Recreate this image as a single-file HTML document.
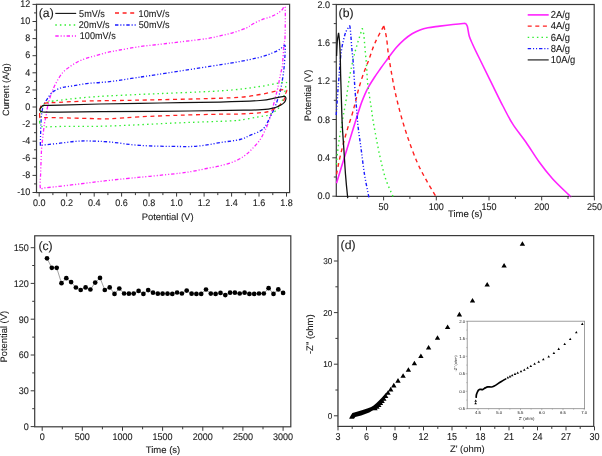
<!DOCTYPE html>
<html><head><meta charset="utf-8"><style>
html,body{margin:0;padding:0;background:#fff;}
body{width:602px;height:456px;overflow:hidden;}
svg{display:block;filter:blur(0.3px);}
text{font-family:"Liberation Sans", sans-serif;fill:#1a1a1a;text-rendering:geometricPrecision;stroke:#1a1a1a;stroke-width:0.1px;}
</style></head><body>
<svg width="602" height="456" viewBox="0 0 602 456">
<rect width="602" height="456" fill="#fff"/>
<rect x="36.5" y="4.3" width="253.1" height="188.3" fill="none" stroke="#3a3a3a" stroke-width="1.2"/>
<path d="M39.2 192.6v4M66.7 192.6v4M94.2 192.6v4M121.6 192.6v4M149.1 192.6v4M176.6 192.6v4M204.1 192.6v4M231.6 192.6v4M259 192.6v4M286.5 192.6v4M52.9 192.6v2.5M80.4 192.6v2.5M107.9 192.6v2.5M135.4 192.6v2.5M162.9 192.6v2.5M190.3 192.6v2.5M217.8 192.6v2.5M245.3 192.6v2.5M272.8 192.6v2.5" stroke="#3a3a3a" stroke-width="1" fill="none"/>
<path d="M36.5 192.5h-4M36.5 175.4h-4M36.5 158.3h-4M36.5 141.2h-4M36.5 124.1h-4M36.5 107h-4M36.5 89.9h-4M36.5 72.8h-4M36.5 55.7h-4M36.5 38.6h-4M36.5 21.5h-4M36.5 4.4h-4M36.5 183.9h-2.5M36.5 166.9h-2.5M36.5 149.8h-2.5M36.5 132.7h-2.5M36.5 115.5h-2.5M36.5 98.5h-2.5M36.5 81.3h-2.5M36.5 64.2h-2.5M36.5 47.1h-2.5M36.5 30h-2.5M36.5 12.9h-2.5" stroke="#3a3a3a" stroke-width="1" fill="none"/>
<text transform="translate(39.2 206.2) scale(1.0 1.08)" font-size="9" text-anchor="middle" >0.0</text>
<text transform="translate(66.7 206.2) scale(1.0 1.08)" font-size="9" text-anchor="middle" >0.2</text>
<text transform="translate(94.2 206.2) scale(1.0 1.08)" font-size="9" text-anchor="middle" >0.4</text>
<text transform="translate(121.6 206.2) scale(1.0 1.08)" font-size="9" text-anchor="middle" >0.6</text>
<text transform="translate(149.1 206.2) scale(1.0 1.08)" font-size="9" text-anchor="middle" >0.8</text>
<text transform="translate(176.6 206.2) scale(1.0 1.08)" font-size="9" text-anchor="middle" >1.0</text>
<text transform="translate(204.1 206.2) scale(1.0 1.08)" font-size="9" text-anchor="middle" >1.2</text>
<text transform="translate(231.6 206.2) scale(1.0 1.08)" font-size="9" text-anchor="middle" >1.4</text>
<text transform="translate(259 206.2) scale(1.0 1.08)" font-size="9" text-anchor="middle" >1.6</text>
<text transform="translate(286.5 206.2) scale(1.0 1.08)" font-size="9" text-anchor="middle" >1.8</text>
<text transform="translate(30.2 195.2) scale(1.0 1.08)" font-size="9" text-anchor="end" >-10</text>
<text transform="translate(30.2 178.1) scale(1.0 1.08)" font-size="9" text-anchor="end" >-8</text>
<text transform="translate(30.2 161) scale(1.0 1.08)" font-size="9" text-anchor="end" >-6</text>
<text transform="translate(30.2 143.9) scale(1.0 1.08)" font-size="9" text-anchor="end" >-4</text>
<text transform="translate(30.2 126.8) scale(1.0 1.08)" font-size="9" text-anchor="end" >-2</text>
<text transform="translate(30.2 109.7) scale(1.0 1.08)" font-size="9" text-anchor="end" >0</text>
<text transform="translate(30.2 92.6) scale(1.0 1.08)" font-size="9" text-anchor="end" >2</text>
<text transform="translate(30.2 75.5) scale(1.0 1.08)" font-size="9" text-anchor="end" >4</text>
<text transform="translate(30.2 58.4) scale(1.0 1.08)" font-size="9" text-anchor="end" >6</text>
<text transform="translate(30.2 41.3) scale(1.0 1.08)" font-size="9" text-anchor="end" >8</text>
<text transform="translate(30.2 24.2) scale(1.0 1.08)" font-size="9" text-anchor="end" >10</text>
<text transform="translate(30.2 7.1) scale(1.0 1.08)" font-size="9" text-anchor="end" >12</text>
<text transform="translate(167.6 220.3)" font-size="9.45" text-anchor="middle" >Potential (V)</text>
<text transform="translate(9.1 89.6) rotate(-90)" font-size="9.1" text-anchor="middle" >Current (A/g)</text>
<text transform="translate(38.8 16.7)" font-size="12.2" text-anchor="start" >(a)</text>
<path d="M40.4 188C39.7 185.4 40.5 178.3 40.7 172C40.9 165.7 41.2 155.5 41.5 150C41.8 144.5 42.1 143.3 42.6 139C43.1 134.7 43.8 128 44.4 124C45 120 45.7 117.9 46.2 115.1C46.7 112.3 46.9 109.9 47.5 107.2C48.1 104.5 48.8 101.8 49.6 99C50.4 96.2 51.3 93.5 52.5 90.6C53.7 87.7 55.1 84.5 56.9 81.4C58.6 78.3 60.7 74.8 63 72.2C65.3 69.7 68.2 67.9 70.7 66.1C73.2 64.3 75.8 62.8 78.3 61.5C80.8 60.2 83.3 59.3 86 58.4C88.7 57.5 91.2 57 94.6 56C98 55 102.3 53.6 106.5 52.6C110.7 51.6 114.3 51 119.8 50C125.3 49 133 47.6 139.7 46.6C146.4 45.6 153.3 45.1 160 44.3C166.7 43.5 172.2 42.8 180 41.9C187.8 41 199.9 39.6 206.6 38.6C213.2 37.6 215.5 36.9 219.9 35.9C224.3 34.9 228.8 33.9 233.2 32.6C237.6 31.3 243.3 29.4 246.4 28C249.5 26.6 250.1 25.6 252 24.5C253.9 23.4 255.9 22.3 258 21.3C260.1 20.3 262.6 19.3 264.6 18.6C266.6 17.9 268.1 17.8 269.9 17.1C271.7 16.5 273.6 15.5 275.2 14.7C276.8 13.9 278.1 13.1 279.2 12.3C280.3 11.5 281 10.9 281.9 10C282.8 9.1 284 6.3 284.6 6.6C285.2 6.9 285.2 6.8 285.3 12C285.4 17.2 285.2 32.8 285 38C284.8 43.2 284.3 40.1 284 43.4C283.7 46.7 283.3 54.1 283 57.9C282.7 61.7 282.8 63.2 282.4 66C282 68.8 281.2 71 280.4 74.7C279.6 78.4 278.7 84 277.8 87.9C276.9 91.9 276.1 94.7 275.1 98.4C274.2 102.1 273.2 106.1 272.1 109.9C271.1 113.7 270 117.9 268.8 121.4C267.6 124.9 266.2 128 264.7 131.1C263.2 134.2 261.8 137.2 259.7 140.2C257.6 143.2 254.5 146.5 251.8 149.2C249.2 151.9 246.9 154.2 243.8 156.3C240.7 158.4 237.2 160.3 233.2 161.9C229.2 163.5 224.3 164.7 219.9 165.8C215.5 166.9 211 167.6 206.6 168.5C202.2 169.4 197.7 170.4 193.3 171.2C188.9 172 187.2 172.3 180 173.2C172.8 174 159 175.4 150 176.3C141 177.2 135 177.7 126 178.6C117 179.5 106 180.7 96 181.9C86 183.1 74.5 184.6 66 185.6C57.5 186.6 49.3 187.4 45 187.8C40.7 188.2 41.1 190.6 40.4 188Z" fill="none" stroke="#ff22ff" stroke-width="1.3" stroke-dasharray="3.4 1.9 1.1 1.9 1.1 1.9" stroke-linejoin="round"/>
<path d="M40.4 145.3C40.2 143.6 40.5 138.9 40.6 135C40.7 131.1 40.8 125.7 41 122C41.2 118.3 41.4 115.7 41.8 113C42.2 110.3 42.6 107.8 43.2 106C43.8 104.2 44.4 103.4 45.2 102.1C46 100.8 46.9 99.5 47.8 98.2C48.7 96.9 49.4 95.4 50.5 94.2C51.6 93 52.4 92 54.4 90.9C56.4 89.8 59.1 88.3 62.3 87.5C65.5 86.7 69.2 86.5 73.3 85.8C77.3 85.1 82.2 84.1 86.6 83.6C91 83 95.5 82.9 99.9 82.5C104.3 82.1 108.8 81.8 113.2 81.2C117.6 80.7 122 79.9 126.4 79.2C130.8 78.5 135.8 77.8 139.7 77.2C143.6 76.6 134.9 77.9 150 75.6C165.1 73.3 211.7 66.3 230 63.2C248.3 60.1 252.8 59 260 57.2C267.2 55.4 269.9 53.9 273.2 52.6C276.5 51.3 277.8 50.5 279.7 49.3C281.6 48.1 283.4 45.8 284.3 45.4C285.2 45 285.1 45.4 285.2 47C285.3 48.6 285.2 51 285 55C284.8 59 284.4 65.3 283.7 70.8C283 76.3 281.9 83.5 281 87.9C280.1 92.3 279.5 93.7 278.4 97.1C277.3 100.5 276 104.7 274.5 108.2C273 111.7 271.2 114.9 269.6 118.1C268 121.2 266.4 124.9 264.7 127.1C263 129.3 262.2 129.9 259.7 131.3C257.2 132.7 253.2 134 249.9 135.4C246.6 136.8 245 138.3 240 139.5C235 140.7 226.7 141.5 220 142.6C213.3 143.7 206.7 145.2 200 145.9C193.3 146.6 190 146.6 180 146.5C170 146.4 151.7 146.2 140 145.4C128.3 144.7 118.3 142.7 110 142C101.7 141.3 95.7 141.1 90 141C84.3 140.9 81 140.9 76 141.3C71 141.7 65.2 142.6 60 143.2C54.8 143.8 48.1 144.5 45 144.8C41.9 145.2 42.3 145.2 41.5 145.3C40.7 145.4 40.5 147 40.4 145.3Z" fill="none" stroke="#1a1aff" stroke-width="1.3" stroke-dasharray="3.4 1.9 1.1 1.9 1.1 1.9" stroke-linejoin="round"/>
<path d="M39.7 122C39.6 120.1 39.9 116.5 40.3 114C40.6 111.5 41.3 108.6 41.8 107C42.3 105.4 42.7 105.2 43.5 104.5C44.3 103.8 44.8 103.4 46.5 102.8C48.2 102.2 46.5 101.9 53.5 101C60.5 100.1 74.8 98.3 88.6 97.2C102.3 96.1 114.1 95.6 136 94.6C157.9 93.5 199.3 92.2 220 90.9C240.7 89.6 249.2 88 260 86.5C270.8 85 280.8 82 285 82.2C289.2 82.5 285.5 85.9 285.4 88C285.3 90.1 284.7 93 284.2 95C283.7 97 282.9 98.6 282.3 100.3C281.7 102 281.3 103.7 280.5 105.2C279.7 106.7 279.3 107.7 277.4 109.3C275.5 110.9 272.6 113.5 269.1 114.8C265.6 116.1 261.2 116.4 256.4 117.3C251.5 118.2 244.4 119.5 240 120.1C235.6 120.7 240 120.5 230 120.9C220 121.4 200 122 180 122.8C160 123.6 128.3 125.4 110 126C91.7 126.6 80.8 126.2 70 126.3C59.2 126.4 49.8 126.9 45 126.8C40.2 126.7 41.9 126.3 41 125.5C40.1 124.7 39.8 123.9 39.7 122Z" fill="none" stroke="#33ee33" stroke-width="1.3" stroke-dasharray="1.5 3.1" stroke-linejoin="round"/>
<path d="M39.7 117C39.5 116.1 39.6 113.8 39.8 112C40 110.2 40.3 107.8 40.8 106.5C41.3 105.2 42 104.6 43 104C44 103.4 45.2 103 47 102.8C48.8 102.6 46.6 102.9 53.5 102.6C60.4 102.3 74.8 101.4 88.6 101C102.3 100.6 112.4 100.7 136 100.2C159.6 99.7 209.3 98.8 230 97.8C250.7 96.8 250.9 95.9 260 94.5C269.1 93.1 280.6 89.6 284.8 89.6C289 89.6 285.3 93 285.3 94.5C285.3 96 285 97.2 284.6 98.3C284.2 99.4 283.8 100.3 283.2 101.2C282.6 102.1 281.8 102.9 280.9 103.8C280 104.7 279.1 105.8 277.8 106.8C276.5 107.8 275.1 108.7 272.9 109.6C270.7 110.5 270.2 111.6 264.7 112.3C259.2 113 247.4 113.7 240 114C232.6 114.3 230 114 220 114.2C210 114.4 193.3 114.8 180 115.2C166.7 115.6 151.7 116.2 140 116.8C128.3 117.4 118.3 118.5 110 118.8C101.7 119.1 98.3 118.7 90 118.5C81.7 118.3 67.5 118 60 117.8C52.5 117.6 48.2 117.7 45 117.6C41.8 117.5 41.9 117.5 41 117.4C40.1 117.3 39.9 117.9 39.7 117Z" fill="none" stroke="#ff2020" stroke-width="1.3" stroke-dasharray="4 3.6" stroke-linejoin="round"/>
<path d="M39.8 110.2C39.6 109.6 40.1 108.7 40.5 108C40.9 107.3 41.5 106.6 42.2 106.2C42.9 105.8 41.5 105.6 44.5 105.4C47.5 105.2 50.8 105.4 60 105.2C69.2 105 83.3 104.4 100 104C116.7 103.6 140 103.3 160 103C180 102.7 203.3 102.5 220 102.1C236.7 101.7 250.7 101.2 260 100.5C269.3 99.8 271.8 98.5 275.8 97.8C279.9 97.1 282.6 96.4 284.3 96.4C286 96.4 285.7 97.4 285.9 98C286.1 98.6 285.9 99.5 285.6 100.2C285.4 100.9 285.2 101.6 284.4 102.4C283.6 103.2 282.4 104.2 280.9 105C279.4 105.8 278.5 106.7 275.4 107.5C272.2 108.3 269.6 109.2 262 109.7C254.4 110.2 247 110.1 230 110.4C213 110.7 181.7 111.1 160 111.3C138.3 111.5 116.7 111.6 100 111.7C83.3 111.8 69.2 112 60 112.1C50.8 112.2 48.1 112.2 45 112.1C41.9 112 42.4 111.9 41.5 111.6C40.6 111.3 40 110.8 39.8 110.2Z" fill="none" stroke="#111" stroke-width="1.2" stroke-linejoin="round"/>
<path d="M55.3 13.4H76.2" stroke="#111" stroke-width="1.1"/>
<text transform="translate(79.1 16.8) scale(1.0 1.08)" font-size="9.1" text-anchor="start" >5mV/s</text>
<path d="M115 13H135" stroke="#ff2020" stroke-width="1.3" stroke-dasharray="4 3.6"/>
<text transform="translate(138.6 16.8) scale(1.0 1.08)" font-size="9.1" text-anchor="start" >10mV/s</text>
<path d="M55.3 25H76.2" stroke="#33ee33" stroke-width="1.3" stroke-dasharray="1.5 3.1"/>
<text transform="translate(78.8 28) scale(1.0 1.08)" font-size="9.1" text-anchor="start" >20mV/s</text>
<path d="M115 25H137.5" stroke="#1a1aff" stroke-width="1.3" stroke-dasharray="3.4 1.9 1.1 1.9 1.1 1.9"/>
<text transform="translate(138.8 28) scale(1.0 1.08)" font-size="9.1" text-anchor="start" >50mV/s</text>
<path d="M55.3 36H76.7" stroke="#ff22ff" stroke-width="1.3" stroke-dasharray="3.4 1.9 1.1 1.9 1.1 1.9"/>
<text transform="translate(79.8 39.3) scale(1.0 1.08)" font-size="9.1" text-anchor="start" >100mV/s</text>
<rect x="336.3" y="4.5" width="257.9" height="191.9" fill="none" stroke="#3a3a3a" stroke-width="1.2"/>
<path d="M383.6 196.4v4M436.3 196.4v4M489 196.4v4M541.7 196.4v4M594.4 196.4v4M357.2 196.4v2.5M409.9 196.4v2.5M462.6 196.4v2.5M515.4 196.4v2.5M568 196.4v2.5" stroke="#3a3a3a" stroke-width="1" fill="none"/>
<path d="M336.3 196.2h-4M336.3 157.8h-4M336.3 119.5h-4M336.3 81.1h-4M336.3 42.8h-4M336.3 4.4h-4M336.3 177h-2.5M336.3 138.7h-2.5M336.3 100.3h-2.5M336.3 61.9h-2.5M336.3 23.6h-2.5" stroke="#3a3a3a" stroke-width="1" fill="none"/>
<text transform="translate(383.6 210.2) scale(1.0 1.08)" font-size="9" text-anchor="middle" >50</text>
<text transform="translate(436.3 210.2) scale(1.0 1.08)" font-size="9" text-anchor="middle" >100</text>
<text transform="translate(489 210.2) scale(1.0 1.08)" font-size="9" text-anchor="middle" >150</text>
<text transform="translate(541.7 210.2) scale(1.0 1.08)" font-size="9" text-anchor="middle" >200</text>
<text transform="translate(594.4 210.2) scale(1.0 1.08)" font-size="9" text-anchor="middle" >250</text>
<text transform="translate(330 199.3) scale(1.0 1.08)" font-size="9" text-anchor="end" >0.0</text>
<text transform="translate(330 160.9) scale(1.0 1.08)" font-size="9" text-anchor="end" >0.4</text>
<text transform="translate(330 122.6) scale(1.0 1.08)" font-size="9" text-anchor="end" >0.8</text>
<text transform="translate(330 84.2) scale(1.0 1.08)" font-size="9" text-anchor="end" >1.2</text>
<text transform="translate(330 45.9) scale(1.0 1.08)" font-size="9" text-anchor="end" >1.6</text>
<text transform="translate(330 7.5) scale(1.0 1.08)" font-size="9" text-anchor="end" >2.0</text>
<text transform="translate(465.2 217.3)" font-size="9.5" text-anchor="middle" >Time (s)</text>
<text transform="translate(311.3 95.5) rotate(-90)" font-size="9.4" text-anchor="middle" >Potential (V)</text>
<text transform="translate(338.6 17.1)" font-size="12.2" text-anchor="start" >(b)</text>
<path d="M336.5 183.2C337.4 180.1 340.4 170.3 342.2 164.6C343.9 158.9 345.4 154.3 347 149C348.6 143.7 350.3 138 352 132.6C353.7 127.2 355.3 121.6 357 116.4C358.7 111.2 360.2 106 362 101.4C363.8 96.8 365.5 92.6 367.6 88.6C369.7 84.6 372.3 80.7 374.5 77.3C376.7 73.9 378.6 71.3 380.7 68.3C382.8 65.3 384.7 62.8 387.3 59.3C389.9 55.8 393.5 50.9 396.3 47.6C399.1 44.3 401.6 42 404.2 39.7C406.8 37.4 409.5 35.4 412.1 33.8C414.7 32.2 417.4 30.9 420 29.9C422.6 28.9 424.6 28.4 427.9 27.8C431.2 27.2 435.5 26.7 439.7 26.1C443.9 25.6 448.6 25 452.9 24.5C457.2 24 463.3 23.4 465.4 23.2M465.4 23.2C465.7 23.8 466.8 24.3 467.4 26.5C468 28.7 468.4 33.3 469.3 36.3C470.2 39.2 471 40.6 472.6 44.2C474.2 47.8 476.3 52.1 479.2 58C482.1 63.9 485.9 71.6 489.8 79.6C493.8 87.6 499.1 98.6 502.9 106C506.7 113.4 508.9 118.1 512.8 124.1C516.6 130.1 521.6 135.9 526 142.2C530.4 148.5 534.8 155.9 539.2 162C543.6 168.1 547.4 173 552.3 178.5C557.2 184 565.8 191.9 568.8 194.9C571.8 197.9 570 196.2 570.3 196.4" fill="none" stroke="#ff22ff" stroke-width="1.6" stroke-linejoin="round"/>
<path d="M336.5 174.4C336.8 173 337.4 169.5 338.1 166.2C338.8 162.9 339.6 158.7 340.6 154.6C341.6 150.5 342.7 145.9 343.9 141.5C345.1 137.1 346.4 132.6 347.8 127.9C349.2 123.2 351.2 117.6 352.4 113.4C353.6 109.2 354.1 107.1 355.2 102.9C356.3 98.7 357.4 93.3 358.8 88.4C360.2 83.5 361.9 78.1 363.6 73.3C365.3 68.5 367.2 64.2 368.9 59.7C370.5 55.2 372.1 50.1 373.5 46.6C374.9 43.1 375.3 42.2 377 38.7C378.7 35.2 382.7 28 383.8 25.9M383.8 25.9C384.2 27.8 385.6 32.4 386.4 37.1C387.2 41.8 387.6 48.7 388.4 54.2C389.2 59.7 389.9 63.6 391 70C392.1 76.4 393.6 85.2 395.3 92.8C397 100.4 398.9 108 401 115.6C403.1 123.2 405.5 130.8 408.1 138.4C410.7 146 413.9 154.6 416.7 161.2C419.5 167.8 422.1 172.5 425.2 178.2C428.3 183.9 433.4 192.3 435.2 195.3C437 198.3 435.9 196.2 436 196.4" fill="none" stroke="#ff2020" stroke-width="1.4" stroke-dasharray="4 3.6" stroke-linejoin="round"/>
<path d="M336.5 164.5C336.6 162.8 336.9 158.4 337.3 154.6C337.7 150.8 338.2 146.2 338.9 141.5C339.6 136.8 340.7 130.8 341.4 126.6C342.1 122.3 342.6 119.5 343.2 116C343.8 112.5 344.5 109.4 345.2 105.5C345.9 101.6 346.6 96.7 347.2 92.4C347.8 88.2 348.3 84.2 349 80C349.7 75.8 350.7 70.8 351.5 67C352.3 63.2 352.9 60.2 353.7 57.1C354.4 54 355.1 51.6 356 48.5C356.9 45.4 357.9 41.9 359 38.5C360.1 35.1 361.8 29.9 362.3 28.2M362.3 28.2C362.5 29.1 363.2 31 363.6 33.4C364 35.8 364.2 39.5 364.5 42.6C364.8 45.7 365 48.7 365.3 51.8C365.6 54.9 365.9 58.1 366.2 61.1C366.4 64.1 366.6 66.3 366.8 70C367 73.7 367.2 78.8 367.6 83.2C368.1 87.6 368.9 91.9 369.5 96.3C370.1 100.7 370.8 104.5 371.5 109.5C372.2 114.5 372.6 118.3 374 126C375.4 133.7 377.8 146.7 379.7 155.4C381.6 164.1 383.3 171.5 385.4 178.2C387.5 184.8 391.2 192.3 392.5 195.3C393.8 198.3 392.9 196.2 393 196.4" fill="none" stroke="#33ee33" stroke-width="1.4" stroke-dasharray="1.5 3.1" stroke-linejoin="round"/>
<path d="M336.2 115C336.3 113.8 336.4 112.2 336.7 108C337 103.8 337.6 95.5 338 89.7C338.4 83.9 339 77.2 339.3 72.9C339.6 68.6 339.7 67.2 340 63.7C340.3 60.2 340.7 55.5 341.2 51.8C341.7 48.1 342.4 44.6 343.2 41.3C344 38 344.7 34.7 345.8 32.1C346.9 29.5 349.1 26.6 349.8 25.5M349.8 25.5C350 27 350.5 31 350.8 34.7C351.1 38.4 351.4 43.5 351.8 47.9C352.2 52.3 352.7 56.7 353.1 61.1C353.5 65.5 353.7 69.4 354 74.2C354.3 79 354.6 83.8 355 89.7C355.4 95.6 356.1 103 356.6 109.5C357.2 116 357.5 121.8 358.3 128.5C359.1 135.2 360.2 142 361.2 149.7C362.2 157.3 363.3 166.7 364.5 174.4C365.7 182.1 367.9 192.1 368.6 195.8C369.3 199.5 368.8 196.3 368.8 196.4" fill="none" stroke="#1a1aff" stroke-width="1.4" stroke-dasharray="3.4 1.9 1.1 1.9 1.1 1.9" stroke-linejoin="round"/>
<path d="M336.6 56C336.7 53.5 337 45.2 337.3 41.3C337.6 37.4 338.4 34.2 338.6 32.8M338.6 32.8C338.8 34.2 339.2 37.7 339.5 41.3C339.8 44.9 340 49 340.2 54.5C340.4 60 340.5 68.1 340.6 74C340.8 79.9 340.9 84.1 341.1 90C341.3 95.9 341.5 103 341.7 109.5C341.9 116 342.1 122.5 342.5 129.2C342.9 135.9 343.4 142.2 343.9 149.7C344.4 157.2 344.9 166.7 345.5 174.4C346.1 182.1 347.1 192.1 347.5 195.8C347.9 199.5 347.6 196.3 347.6 196.4" fill="none" stroke="#111" stroke-width="1.3" stroke-linejoin="round"/>
<path d="M527.7 14.9H548.7" stroke="#ff22ff" stroke-width="1.6"/>
<path d="M527.7 26.1H548.7" stroke="#ff2020" stroke-width="1.3" stroke-dasharray="4 3.6"/>
<path d="M527.7 37.3H548.7" stroke="#33ee33" stroke-width="1.3" stroke-dasharray="1.5 3.1"/>
<path d="M527.7 48.7H548.7" stroke="#1a1aff" stroke-width="1.3" stroke-dasharray="3.4 1.9 1.1 1.9 1.1 1.9"/>
<path d="M527.7 59.9H548.7" stroke="#333" stroke-width="1.3"/>
<text transform="translate(550.7 18.2) scale(1.0 1.08)" font-size="9.4" text-anchor="start" >2A/g</text>
<text transform="translate(550.7 29.4) scale(1.0 1.08)" font-size="9.4" text-anchor="start" >4A/g</text>
<text transform="translate(550.7 40.6) scale(1.0 1.08)" font-size="9.4" text-anchor="start" >6A/g</text>
<text transform="translate(550.7 52) scale(1.0 1.08)" font-size="9.4" text-anchor="start" >8A/g</text>
<text transform="translate(550.7 63.2) scale(1.0 1.08)" font-size="9.4" text-anchor="start" >10A/g</text>
<rect x="34.7" y="235.8" width="256.1" height="191" fill="none" stroke="#3a3a3a" stroke-width="1.2"/>
<path d="M42.2 426.8v4M82.3 426.8v4M122.5 426.8v4M162.6 426.8v4M202.8 426.8v4M242.9 426.8v4M283.1 426.8v4M62.3 426.8v2.5M102.4 426.8v2.5M142.6 426.8v2.5M182.7 426.8v2.5M222.9 426.8v2.5M263 426.8v2.5" stroke="#3a3a3a" stroke-width="1" fill="none"/>
<path d="M34.7 426.6h-4M34.7 390.8h-4M34.7 355h-4M34.7 319.2h-4M34.7 283.4h-4M34.7 247.7h-4M34.7 408.7h-2.5M34.7 372.9h-2.5M34.7 337.1h-2.5M34.7 301.3h-2.5M34.7 265.5h-2.5" stroke="#3a3a3a" stroke-width="1" fill="none"/>
<text transform="translate(42.2 440.3) scale(1.0 1.08)" font-size="9" text-anchor="middle" >0</text>
<text transform="translate(82.3 440.3) scale(1.0 1.08)" font-size="9" text-anchor="middle" >500</text>
<text transform="translate(122.5 440.3) scale(1.0 1.08)" font-size="9" text-anchor="middle" >1000</text>
<text transform="translate(162.6 440.3) scale(1.0 1.08)" font-size="9" text-anchor="middle" >1500</text>
<text transform="translate(202.8 440.3) scale(1.0 1.08)" font-size="9" text-anchor="middle" >2000</text>
<text transform="translate(242.9 440.3) scale(1.0 1.08)" font-size="9" text-anchor="middle" >2500</text>
<text transform="translate(283.1 440.3) scale(1.0 1.08)" font-size="9" text-anchor="middle" >3000</text>
<text transform="translate(28.8 429.9) scale(1.0 1.08)" font-size="9" text-anchor="end" >0</text>
<text transform="translate(28.8 394.1) scale(1.0 1.08)" font-size="9" text-anchor="end" >30</text>
<text transform="translate(28.8 358.3) scale(1.0 1.08)" font-size="9" text-anchor="end" >60</text>
<text transform="translate(28.8 322.5) scale(1.0 1.08)" font-size="9" text-anchor="end" >90</text>
<text transform="translate(28.8 286.7) scale(1.0 1.08)" font-size="9" text-anchor="end" >120</text>
<text transform="translate(28.8 251) scale(1.0 1.08)" font-size="9" text-anchor="end" >150</text>
<text transform="translate(163 453)" font-size="9.5" text-anchor="middle" >Time (s)</text>
<text transform="translate(7.2 336.7) rotate(-90)" font-size="9.4" text-anchor="middle" >Potential (V)</text>
<text transform="translate(38.4 250.4)" font-size="12.2" text-anchor="start" >(c)</text>
<path d="M47 258.3L51.8 267.8L56.7 267.8L61.5 283.2L66.3 278.2L71.1 282.1L75.9 287.5L80.7 290L85.6 287.4L90.4 289.5L95.2 282.6L100 277.9L104.8 290L109.7 287.4L114.5 293.9L119.3 288.5L124.1 293.5L128.9 293.7L133.7 293.6L138.6 290.9L143.4 293.9L148.2 290.1L153 292.7L157.8 293.7L162.6 293.7L167.5 293.7L172.3 293.9L177.1 292.5L181.9 293.5L186.7 290.6L191.6 293.7L196.4 293.9L201.2 293.9L206 289.5L210.8 293.6L215.6 293.9L220.5 292.9L225.3 295.1L230.1 292.7L234.9 292.7L239.7 293.5L244.6 292.7L249.4 293.9L254.2 293.9L259 293.5L263.8 293.5L268.6 288.2L273.5 293.9L278.3 289.4L283.1 292.9" fill="none" stroke="#444" stroke-width="0.5"/>
<g fill="#000"><circle cx="47" cy="258.3" r="2.35"/><circle cx="51.8" cy="267.8" r="2.35"/><circle cx="56.7" cy="267.8" r="2.35"/><circle cx="61.5" cy="283.2" r="2.35"/><circle cx="66.3" cy="278.2" r="2.35"/><circle cx="71.1" cy="282.1" r="2.35"/><circle cx="75.9" cy="287.5" r="2.35"/><circle cx="80.7" cy="290" r="2.35"/><circle cx="85.6" cy="287.4" r="2.35"/><circle cx="90.4" cy="289.5" r="2.35"/><circle cx="95.2" cy="282.6" r="2.35"/><circle cx="100" cy="277.9" r="2.35"/><circle cx="104.8" cy="290" r="2.35"/><circle cx="109.7" cy="287.4" r="2.35"/><circle cx="114.5" cy="293.9" r="2.35"/><circle cx="119.3" cy="288.5" r="2.35"/><circle cx="124.1" cy="293.5" r="2.35"/><circle cx="128.9" cy="293.7" r="2.35"/><circle cx="133.7" cy="293.6" r="2.35"/><circle cx="138.6" cy="290.9" r="2.35"/><circle cx="143.4" cy="293.9" r="2.35"/><circle cx="148.2" cy="290.1" r="2.35"/><circle cx="153" cy="292.7" r="2.35"/><circle cx="157.8" cy="293.7" r="2.35"/><circle cx="162.6" cy="293.7" r="2.35"/><circle cx="167.5" cy="293.7" r="2.35"/><circle cx="172.3" cy="293.9" r="2.35"/><circle cx="177.1" cy="292.5" r="2.35"/><circle cx="181.9" cy="293.5" r="2.35"/><circle cx="186.7" cy="290.6" r="2.35"/><circle cx="191.6" cy="293.7" r="2.35"/><circle cx="196.4" cy="293.9" r="2.35"/><circle cx="201.2" cy="293.9" r="2.35"/><circle cx="206" cy="289.5" r="2.35"/><circle cx="210.8" cy="293.6" r="2.35"/><circle cx="215.6" cy="293.9" r="2.35"/><circle cx="220.5" cy="292.9" r="2.35"/><circle cx="225.3" cy="295.1" r="2.35"/><circle cx="230.1" cy="292.7" r="2.35"/><circle cx="234.9" cy="292.7" r="2.35"/><circle cx="239.7" cy="293.5" r="2.35"/><circle cx="244.6" cy="292.7" r="2.35"/><circle cx="249.4" cy="293.9" r="2.35"/><circle cx="254.2" cy="293.9" r="2.35"/><circle cx="259" cy="293.5" r="2.35"/><circle cx="263.8" cy="293.5" r="2.35"/><circle cx="268.6" cy="288.2" r="2.35"/><circle cx="273.5" cy="293.9" r="2.35"/><circle cx="278.3" cy="289.4" r="2.35"/><circle cx="283.1" cy="292.9" r="2.35"/></g>
<rect x="337.9" y="235.6" width="255.8" height="190.8" fill="none" stroke="#3a3a3a" stroke-width="1.2"/>
<path d="M337.9 236.2V425.8" stroke="#7a7a7a" stroke-width="1.5"/>
<path d="M338 426.4v4M366.5 426.4v4M395 426.4v4M423.5 426.4v4M452 426.4v4M480.5 426.4v4M509 426.4v4M537.5 426.4v4M566 426.4v4M594.5 426.4v4M352.2 426.4v2.5M380.8 426.4v2.5M409.2 426.4v2.5M437.8 426.4v2.5M466.2 426.4v2.5M494.8 426.4v2.5M523.2 426.4v2.5M551.8 426.4v2.5M580.2 426.4v2.5" stroke="#3a3a3a" stroke-width="1" fill="none"/>
<path d="M337.9 415.8h-4M337.9 364.2h-4M337.9 312.6h-4M337.9 261h-4M337.9 390h-2.5M337.9 338.4h-2.5M337.9 286.8h-2.5" stroke="#3a3a3a" stroke-width="1" fill="none"/>
<text transform="translate(338 439.7) scale(1.0 1.12)" font-size="9" text-anchor="middle" >3</text>
<text transform="translate(366.5 439.7) scale(1.0 1.12)" font-size="9" text-anchor="middle" >6</text>
<text transform="translate(395 439.7) scale(1.0 1.12)" font-size="9" text-anchor="middle" >9</text>
<text transform="translate(423.5 439.7) scale(1.0 1.12)" font-size="9" text-anchor="middle" >12</text>
<text transform="translate(452 439.7) scale(1.0 1.12)" font-size="9" text-anchor="middle" >15</text>
<text transform="translate(480.5 439.7) scale(1.0 1.12)" font-size="9" text-anchor="middle" >18</text>
<text transform="translate(509 439.7) scale(1.0 1.12)" font-size="9" text-anchor="middle" >21</text>
<text transform="translate(537.5 439.7) scale(1.0 1.12)" font-size="9" text-anchor="middle" >24</text>
<text transform="translate(566 439.7) scale(1.0 1.12)" font-size="9" text-anchor="middle" >27</text>
<text transform="translate(594.5 439.7) scale(1.0 1.12)" font-size="9" text-anchor="middle" >30</text>
<text transform="translate(332.3 418.8) scale(1.0 1.04)" font-size="8.2" text-anchor="end" >0</text>
<text transform="translate(332.3 367.2) scale(1.0 1.04)" font-size="8.2" text-anchor="end" >10</text>
<text transform="translate(332.3 315.6) scale(1.0 1.04)" font-size="8.2" text-anchor="end" >20</text>
<text transform="translate(332.3 264) scale(1.0 1.04)" font-size="8.2" text-anchor="end" >30</text>
<text transform="translate(467.3 452.1)" font-size="9.4" text-anchor="middle" >Z' (ohm)</text>
<text transform="translate(313.1 334.2) rotate(-90)" font-size="9.5" text-anchor="middle" >-Z" (ohm)</text>
<text transform="translate(340.6 249.1)" font-size="12.2" text-anchor="start" >(d)</text>
<path d="M522.4 241.2l2.7 4.6h-5.4zM504.1 262.9l2.7 4.6h-5.4zM487.2 281.9l2.7 4.6h-5.4zM472.5 297.9l2.7 4.6h-5.4zM459.4 311.8l2.7 4.6h-5.4zM447.6 324.4l2.7 4.6h-5.4zM437.5 335.2l2.7 4.6h-5.4zM428.6 345l2.7 4.6h-5.4zM420.9 353.4l2.7 4.6h-5.4zM414.4 360.7l2.7 4.6h-5.4zM408.4 367.2l2.7 4.6h-5.4zM403.1 373.2l2.7 4.6h-5.4zM398 378.1l2.7 4.6h-5.4zM393.8 382.8l2.7 4.6h-5.4zM390.7 386.8l2.7 4.6h-5.4zM388 390.2l2.7 4.6h-5.4zM385.7 393.4l2.7 4.6h-5.4zM383.8 396.1l2.7 4.6h-5.4zM382.1 398.4l2.7 4.6h-5.4zM380.5 400.5l2.7 4.6h-5.4zM378.8 402.5l2.7 4.6h-5.4zM377 404.2l2.7 4.6h-5.4zM375 405.7l2.7 4.6h-5.4z" fill="#000"/>
<path d="M349.3 418.2L350.8 415.5L352.4 413.1L356 412L362.6 410L367.9 408.3L371.2 406.9L373.6 405.4L376.5 403L379.3 400.2L382 397.4L384.4 394.7L386.3 392.5L387.2 393.6L384.8 396.6L382.5 399.8L380.5 403L378.3 406.2L374.3 409.6L369.2 412.4L361.2 415.4L355.3 416.9L354 418.8L349.3 418.8Z" fill="#000"/>
<rect x="467.2" y="321.2" width="117.4" height="87.5" fill="#fff" stroke="#888" stroke-width="0.8"/>
<path d="M478 408.7v1.5M499.2 408.7v1.5M520.5 408.7v1.5M541.8 408.7v1.5M563 408.7v1.5M584.2 408.7v1.5M488.6 408.7v0.9M509.9 408.7v0.9M531.1 408.7v0.9M552.4 408.7v0.9M573.6 408.7v0.9M467.2 408.8h-1.5M467.2 391.3h-1.5M467.2 373.8h-1.5M467.2 356.3h-1.5M467.2 338.8h-1.5M467.2 321.3h-1.5M467.2 400.1h-0.9M467.2 382.6h-0.9M467.2 365.1h-0.9M467.2 347.6h-0.9M467.2 330.1h-0.9" stroke="#888" stroke-width="0.6" fill="none"/>
<text transform="translate(478 414.2)" font-size="4.3" text-anchor="middle" fill="#777" style="stroke:none">4.5</text>
<text transform="translate(499.2 414.2)" font-size="4.3" text-anchor="middle" fill="#777" style="stroke:none">5.0</text>
<text transform="translate(520.5 414.2)" font-size="4.3" text-anchor="middle" fill="#777" style="stroke:none">5.5</text>
<text transform="translate(541.8 414.2)" font-size="4.3" text-anchor="middle" fill="#777" style="stroke:none">6.0</text>
<text transform="translate(563 414.2)" font-size="4.3" text-anchor="middle" fill="#777" style="stroke:none">6.5</text>
<text transform="translate(584.2 414.2)" font-size="4.3" text-anchor="middle" fill="#777" style="stroke:none">7.0</text>
<text transform="translate(465.2 410.3)" font-size="4.3" text-anchor="end" fill="#777" style="stroke:none">-0.5</text>
<text transform="translate(465.2 392.8)" font-size="4.3" text-anchor="end" fill="#777" style="stroke:none">0.0</text>
<text transform="translate(465.2 375.3)" font-size="4.3" text-anchor="end" fill="#777" style="stroke:none">0.5</text>
<text transform="translate(465.2 357.8)" font-size="4.3" text-anchor="end" fill="#777" style="stroke:none">1.0</text>
<text transform="translate(465.2 340.3)" font-size="4.3" text-anchor="end" fill="#777" style="stroke:none">1.5</text>
<text transform="translate(465.2 322.8)" font-size="4.3" text-anchor="end" fill="#777" style="stroke:none">2.0</text>
<text transform="translate(526.6 419.5)" font-size="4.3" text-anchor="middle" fill="#777" style="stroke:none">Z' (ohm)</text>
<text transform="translate(457.2 363.4) rotate(-90)" font-size="3.9" text-anchor="middle" fill="#777" style="stroke:none">-Z" (ohm)</text>
<path d="M476.1 397.8C476.2 397.3 476.2 395.7 476.4 394.8C476.6 393.9 476.9 393.2 477.2 392.5C477.5 391.8 477.9 390.9 478.3 390.4C478.7 389.9 479.1 389.4 479.8 389.3C480.5 389.2 481.7 389.8 482.6 389.6C483.5 389.4 484.4 388.3 485.3 387.9C486.2 387.4 486.8 387 487.8 386.9C488.8 386.8 490.4 387.1 491.5 387C492.6 386.9 493.2 386.5 494.2 386C495.2 385.5 496.1 384.9 497.3 384.1C498.5 383.3 499.9 382.3 501.4 381.4C502.9 380.5 505.4 379.1 506.2 378.6" fill="none" stroke="#000" stroke-width="1.7" stroke-linejoin="round"/>
<path d="M475.6 402l1.3 2.3h-2.6zM475.7 399.4l1.3 2.3h-2.6zM507.8 376.2l1.3 2.3h-2.6zM510 375.1l1.3 2.3h-2.6zM512.2 374l1.3 2.3h-2.6zM515 372.6l1.3 2.3h-2.6zM517.7 371.4l1.3 2.3h-2.6zM521 370l1.3 2.3h-2.6zM524.3 368.4l1.3 2.3h-2.6zM527.6 366.4l1.3 2.3h-2.6zM530.8 364.7l1.3 2.3h-2.6zM534.6 362.5l1.3 2.3h-2.6zM538.7 360.4l1.3 2.3h-2.6zM543.3 357.9l1.3 2.3h-2.6zM548.7 355.2l1.3 2.3h-2.6zM553.9 351.7l1.3 2.3h-2.6zM558.7 347.6l1.3 2.3h-2.6zM564.7 342.7l1.3 2.3h-2.6zM570.2 337.7l1.3 2.3h-2.6zM576.3 331l1.3 2.3h-2.6zM582.3 322.6l1.3 2.3h-2.6z" fill="#000"/>
</svg>
</body></html>
